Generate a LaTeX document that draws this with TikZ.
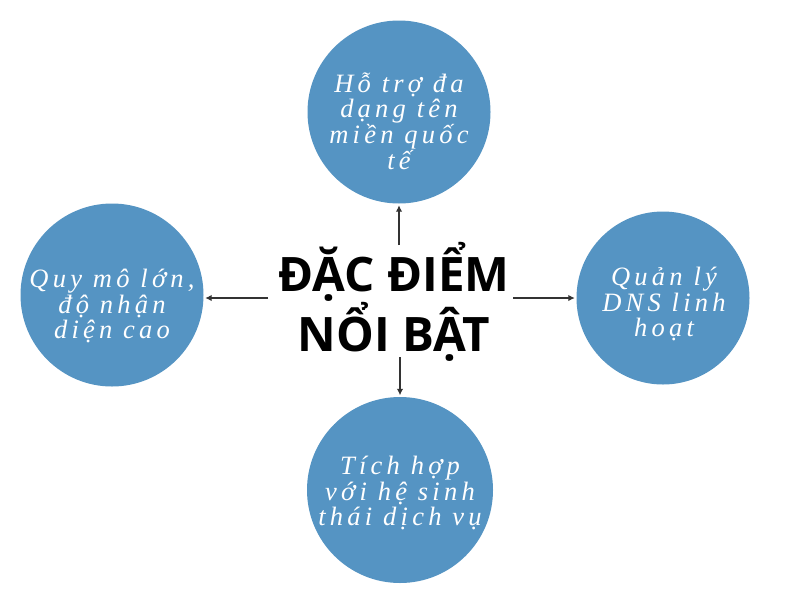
\documentclass[tikz,border=0pt]{standalone}
\usepackage{fontspec}
\setmainfont{Liberation Serif}
\newfontfamily\titlefont{Open Sans}[BoldFont={* Bold}]
\newfontfamily\circfont{Liberation Serif}[ItalicFont={* Italic},LetterSpace=16]
\usetikzlibrary{arrows.meta}
\definecolor{circblue}{RGB}{85,148,195}
\definecolor{arrgray}{RGB}{51,51,51}
\tikzset{
  bubble/.style={circle,fill=circblue,draw=none,inner sep=0pt},
  bubtext/.style={align=center,text=white,font=\circfont\itshape\fontsize{26.5}{25.8}\selectfont,inner sep=0pt},
  conn/.style={draw=arrgray,line width=1.4pt,-{Latex[length=6.5pt,width=6.5pt]},shorten >=1.5pt}
}
\begin{document}
\begin{tikzpicture}[x=1pt,y=-1pt]
\useasboundingbox[fill=white] (0,0) rectangle (800,600);
% circles
\node[bubble,minimum size=183pt] (top) at (399,112) {};
\node[bubble,minimum size=183pt] (lft) at (112,295) {};
\node[bubble,minimum size=173pt] (rgt) at (663,298) {};
\node[bubble,minimum size=186pt] (bot) at (400,490) {};
% texts
\node[bubtext] (ttop) at (399,121) {Hỗ trợ đa\\dạng tên\\miền quốc\\tế};
\node[bubtext] (tlft) at (112,306) {Quy mô lớn,\\độ nhận\\diện cao};
\node[bubtext] (trgt) at (664,304) {Quản lý\\DNS linh\\hoạt};
\node[bubtext] (tbot) at (400,493) {Tích hợp\\với hệ sinh\\thái dịch vụ};
% centre title
\node[align=center,inner sep=0pt,font=\titlefont\bfseries\fontsize{47.5}{53}\selectfont] (c) at (394,302) {ĐẶC ĐIỂM\\NỔI BẬT};
% arrow start points
\coordinate (ct) at (399,245);
\coordinate (cb) at (400,357);
\coordinate (cl) at (268,298);
\coordinate (cr) at (513,298);
\draw[conn] (ct) -- (top.south);
\draw[conn] (cb) -- (bot.north);
\draw[conn] (cl) -- (cl -| lft.east);
\draw[conn] (cr) -- (cr -| rgt.west);
\end{tikzpicture}
\end{document}
